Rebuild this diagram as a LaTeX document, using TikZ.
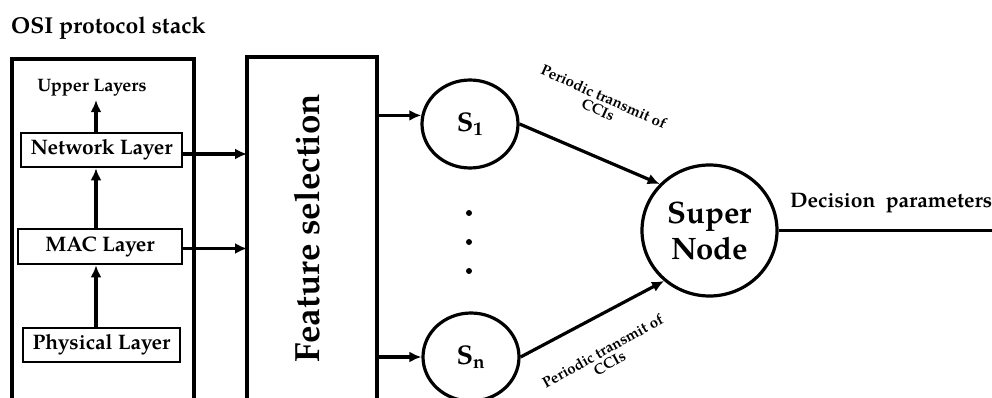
\documentclass[tikz,border=0pt]{standalone}
\usepackage{fontspec}
\setmainfont{texgyrepagella}[Extension=.otf, UprightFont=*-regular, BoldFont=*-bold, ItalicFont=*-italic, BoldItalicFont=*-bolditalic]
\usetikzlibrary{arrows.meta,shapes.geometric}
\begin{document}
\begin{tikzpicture}[x=1pt,y=-1pt,
  bigbox/.style={line width=3.6pt},
  layerbox/.style={draw,line width=2.6pt,inner sep=0pt,font=\bfseries\fontsize{21}{23}\selectfont},
  arr/.style={line width=3.2pt,-{Latex[length=12pt,width=11pt]}},
  snode/.style={draw,ellipse,line width=3.2pt,inner sep=0pt,minimum width=96pt,minimum height=88pt,font=\bfseries\fontsize{27}{30}\selectfont},
  lbl/.style={font=\bfseries\fontsize{15}{14}\selectfont,align=center,inner sep=0pt},
  dotm/.style={circle,fill,inner sep=0pt,minimum size=6pt}]
\useasboundingbox (0,0) rectangle (992,398);
% title
\node[font=\bfseries\fontsize{23}{26}\selectfont,anchor=west,inner sep=0pt] (title) at (11,28) {OSI protocol stack};
% OSI box
\draw[bigbox] (12,398) -- (12,59) -- (194,59) -- (194,398);
\coordinate (ax) at (96,0);
\node[font=\bfseries\fontsize{18}{20}\selectfont] (upper) at (92,88) {Upper Layers};
\node[layerbox,minimum width=161pt,minimum height=34pt] (net) at (101.5,150) {Network Layer};
\node[layerbox,minimum width=164pt,minimum height=35pt] (mac) at (100,246.5) {MAC Layer};
\node[layerbox,minimum width=157pt,minimum height=34pt] (phy) at (101.5,345) {Physical Layer};
\draw[arr] (net.north -| ax) -- (upper.south -| ax);
\draw[arr] (mac.north -| ax) -- (net.south -| ax);
\draw[arr] (phy.north -| ax) -- (mac.south -| ax);
% feature selection
\draw[bigbox] (247,398) -- (247,57) -- (377,57) -- (377,398);
\coordinate (fsL) at (247,0);
\coordinate (fsR) at (377,0);
\node[rotate=90,font=\bfseries\fontsize{35}{38}\selectfont] (fs) at (307,228) {Feature selection};
\draw[arr] ([yshift=-4pt]net.east) -- ([yshift=-4pt]net.east -| fsL);
\draw[arr] ([yshift=-2pt]mac.east) -- ([yshift=-2pt]mac.east -| fsL);
% sensor nodes
\node[snode] (s1) at (470,124) {S\textsubscript{1}};
\node[snode] (sn) at (471,357) {S\textsubscript{n}};
\draw[arr] (s1.170 -| fsR) -- (s1.170);
\draw[arr] (sn.west -| fsR) -- (sn.west);
\node[dotm] (d1) at (469,213) {};
\node[dotm] (d2) at (469,242) {};
\node[dotm] (d3) at (469,271) {};
% super node
\node[draw,ellipse,line width=3.2pt,inner sep=0pt,minimum width=135pt,minimum height=131pt,align=center,font=\bfseries\fontsize{31}{36}\selectfont] (super) at (709.5,230.5) {Super\\Node};
\draw[arr] (s1.east) -- (super.137);
\draw[arr] (sn.east) -- (super.228);
\node[lbl,rotate=-24] (l1) at (601,103) {Periodic transmit of\\CCIs};
\node[lbl,rotate=29] (l2) at (606,357) {Periodic transmit of\\CCIs};
% output
\coordinate (out) at (992,0);
\draw[line width=3.2pt] (super.east) -- (super.east -| out);
\node[font=\bfseries\fontsize{21}{23}\selectfont,anchor=west,inner sep=0pt] (dec) at (790,203) {Decision\ \ parameters};
\end{tikzpicture}
\end{document}
